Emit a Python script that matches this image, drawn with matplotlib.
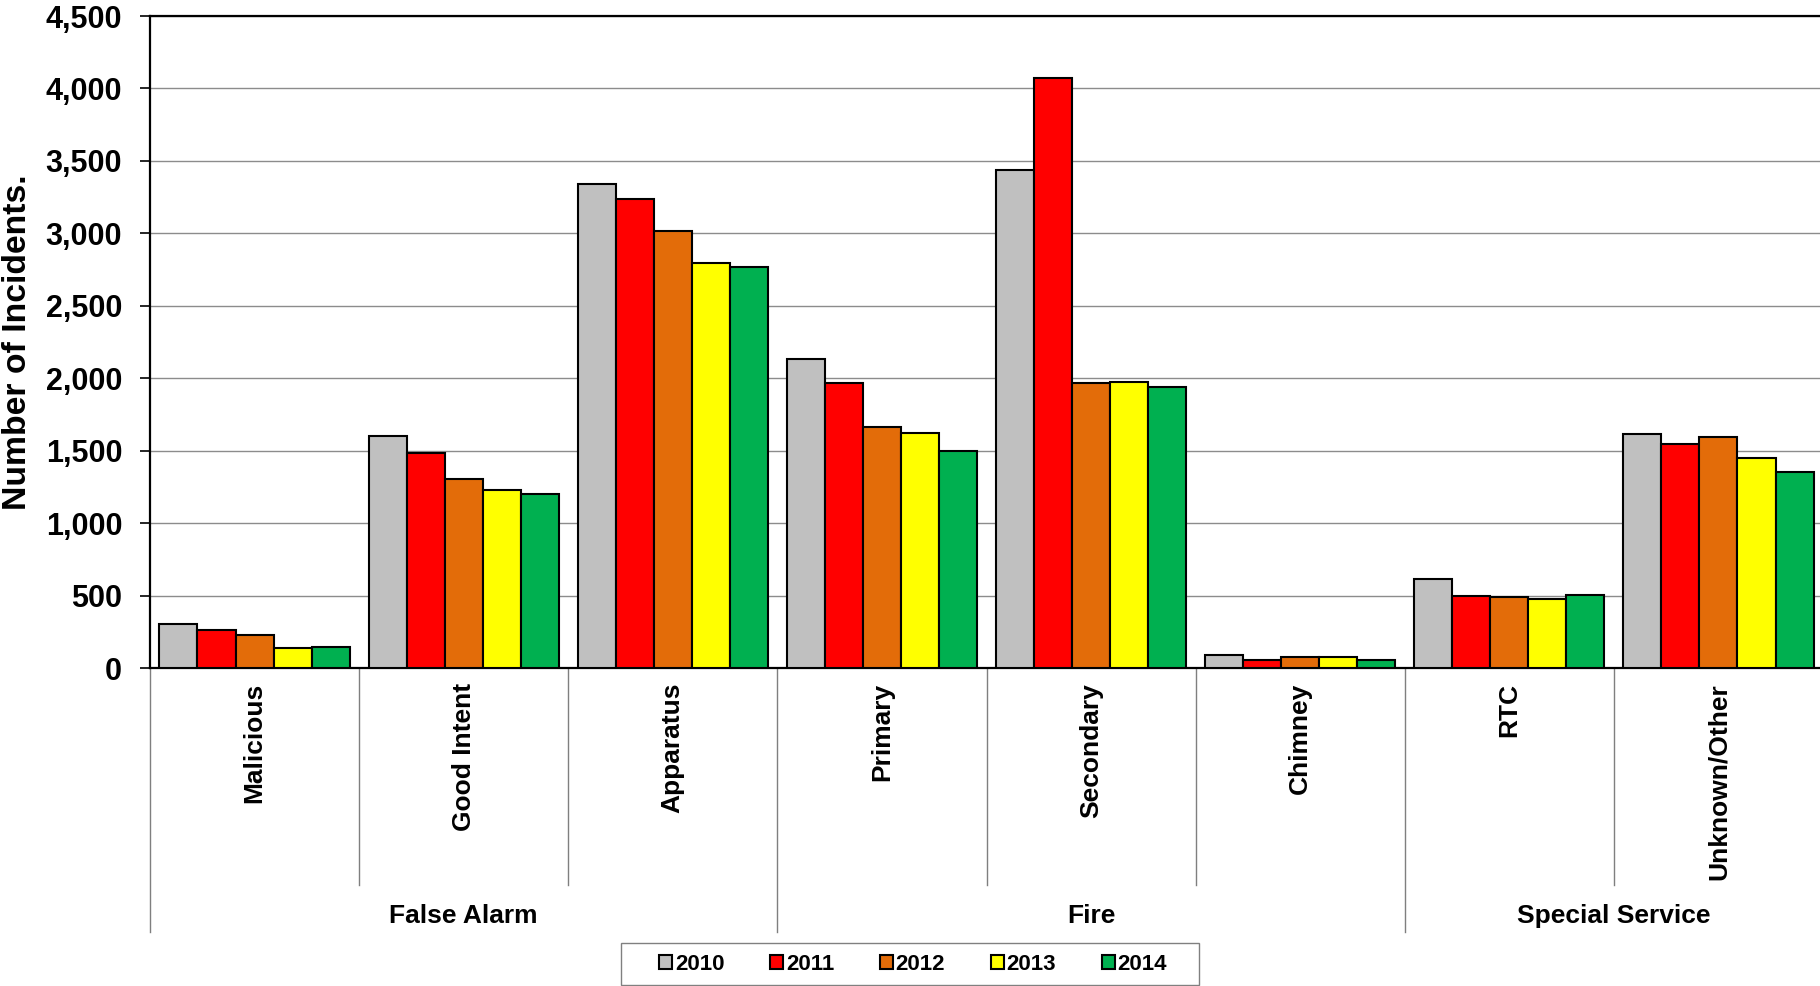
import numpy as np
import matplotlib
matplotlib.use("Agg")
import matplotlib.pyplot as plt
from matplotlib.ticker import FuncFormatter, MultipleLocator
from matplotlib.patches import Patch, Rectangle

plt.rcParams["font.family"] = ["Liberation Sans", "DejaVu Sans"]
plt.rcParams["font.weight"] = "bold"

# Daten
categories = ["Malicious", "Good Intent", "Apparatus", "Primary",
              "Secondary", "Chimney", "RTC", "Unknown/Other"]
groups = ["False Alarm", "Fire", "Special Service"]
group_sizes = [3, 3, 2]
years = ["2010", "2011", "2012", "2013", "2014"]

v2010 = [305, 1603, 3341, 2133, 3440, 89, 617, 1618]
v2011 = [262, 1486, 3237, 1970, 4075, 55, 496, 1544]
v2012 = [225, 1307, 3015, 1661, 1967, 77, 490, 1591]
v2013 = [139, 1227, 2796, 1621, 1976, 74, 478, 1449]
v2014 = [145, 1202, 2771, 1495, 1936, 55, 506, 1356]
series = [v2010, v2011, v2012, v2013, v2014]

colors = ["#C0C0C0", "#FF0000", "#E36C09", "#FFFF00", "#00B050"]

W, H = 1820, 986
fig = plt.figure(figsize=(W / 100, H / 100), dpi=100)
ax = fig.add_axes([150 / W, 318 / H, 1673 / W, 652 / H])

x = np.arange(len(categories))
bw = 0.182
for i, (vals, c) in enumerate(zip(series, colors)):
    ax.bar(x + (i - 2) * bw, vals, width=bw, color=c, edgecolor="black",
           linewidth=1.5, label=years[i], zorder=3)

ax.set_xlim(-0.5, len(categories) - 0.5)
ax.set_ylim(0, 4500)
ax.yaxis.set_major_locator(MultipleLocator(500))
ax.yaxis.set_major_formatter(FuncFormatter(lambda v, p: f"{int(v):,}"))
ax.grid(axis="y", color="#8c8c8c", linewidth=1.0, zorder=0)
ax.set_xticks([])
ax.tick_params(axis="y", length=7, width=1.2, pad=13, labelsize=22)
for lbl in ax.get_yticklabels():
    lbl.set_fontweight("bold")
for s in ["left", "top", "bottom"]:
    ax.spines[s].set_linewidth(1.6)
    ax.spines[s].set_color("black")
ax.spines["right"].set_visible(False)

# Kategorie-Beschriftungen und Trennlinien unter der Achse
trans = ax.get_xaxis_transform()
for i, cat in enumerate(categories):
    ax.text(i, -0.023, cat, transform=trans, rotation=90, ha="center",
            va="top", fontsize=19, fontweight="bold")

bounds = np.cumsum([0] + group_sizes)
for k in range(len(categories) + 1):
    yend = -0.405 if k in bounds else -0.333
    ax.plot([k - 0.5, k - 0.5], [0, yend], transform=trans, color="#7f7f7f",
            linewidth=1.0, clip_on=False)

for g, a, b in zip(groups, bounds[:-1], bounds[1:]):
    ax.text((a + b - 1) / 2, -0.381, g, transform=trans, ha="center",
            va="center", fontsize=19, fontweight="bold")

fig.text(18 / W, 1 - 342 / H, "Number of Incidents.", rotation=90,
         ha="center", va="center", fontsize=24.3, fontweight="bold")

# Legende mit eigenem Rahmen
handles = [Patch(facecolor=c, edgecolor="black", linewidth=1.5) for c in colors]
leg = fig.legend(handles, years, loc="center", ncol=5,
                 bbox_to_anchor=(913 / W, 1 - 964 / H),
                 prop={"size": 16, "weight": "bold"},
                 handlelength=0.6, handleheight=0.6, handletextpad=0.12,
                 columnspacing=2.05, frameon=False, borderaxespad=0)
fig.patches.append(Rectangle((621 / W, 1 - 985 / H), 578 / W, 42 / H,
                             transform=fig.transFigure, fill=False,
                             edgecolor="#808080", linewidth=1.0))

fig.savefig("out.png", dpi=100)
